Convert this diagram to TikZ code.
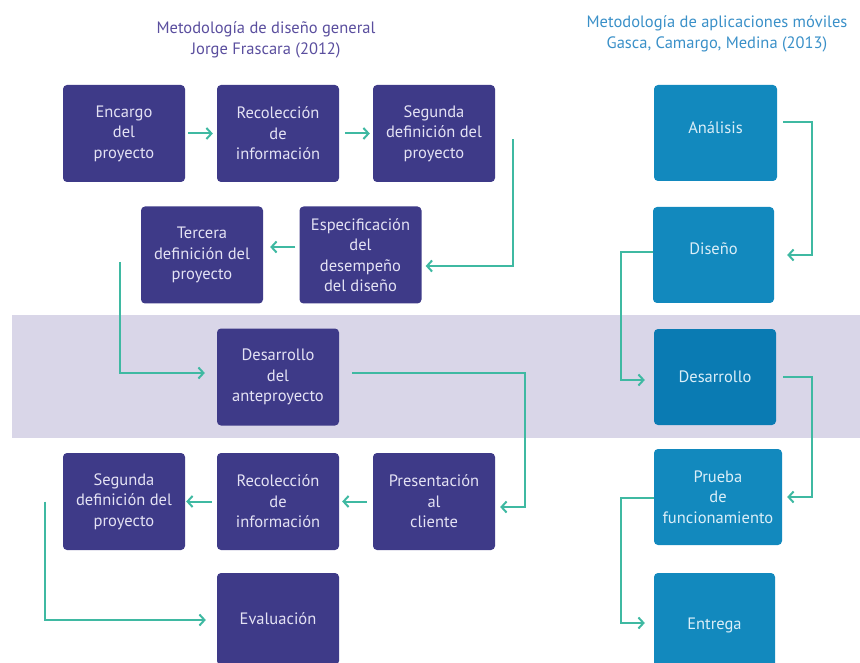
\documentclass[tikz,border=0pt]{standalone}
\usepackage{fontspec}
\setmainfont{PT Sans}
\usetikzlibrary{arrows.meta}
\definecolor{boxpurple}{HTML}{3E3A88}
\definecolor{boxblue}{HTML}{1289BE}
\definecolor{boxbluedark}{HTML}{0A7BB3}
\definecolor{flowteal}{HTML}{3FB9A2}
\definecolor{bandlilac}{HTML}{D9D6E8}
\definecolor{titlepurple}{HTML}{5A4E9E}
\definecolor{titleblue}{HTML}{3A90C8}
\definecolor{lavtext}{HTML}{E4E2F4}
\definecolor{bluetext}{HTML}{DAEEF8}
% lift a label inside its box without changing the box's centring
\newcommand{\liftlabel}[2]{\raisebox{#1}[\height][\depth]{#2}}
\begin{document}
\begin{tikzpicture}[x=1pt,y=-1pt,
  stage/.style={rounded corners=4pt, minimum width=122pt, minimum height=97pt,
    inner sep=0pt, align=center, font=\fontsize{16.5}{20.5}\selectfont},
  lstage/.style={stage, fill=boxpurple, text=lavtext},
  rstage/.style={stage, fill=boxblue, text=bluetext},
  heading/.style={align=center, font=\fontsize{16.5}{21}\selectfont},
  flow/.style={draw=flowteal, line width=2pt,
    -{Straight Barb[length=5pt,width=11pt,line width=2pt]}}]
\useasboundingbox (0,0) rectangle (860,663);
\clip (0,0) rectangle (860,663);

% highlighted development band
\fill[bandlilac] (12,315) rectangle (860,438);

% headings
\node[heading, text=titlepurple] (hleft) at (266,40)
  {Metodología de diseño general\\Jorge Frascara (2012)};
\node[heading, text=titleblue] (hright) at (717,33.5)
  {Metodología de aplicaciones móviles\\Gasca, Camargo, Medina (2013)};

% Frascara: design methodology
\node[lstage] (enc)  at (124,133.5) {Encargo\\del\\proyecto};
\node[lstage] (rec1) at (278,133.5) {Recolección\\de\\información};
\node[lstage] (seg1) at (434,133.5) {Segunda\\definición del\\proyecto};
\node[lstage] (ter)  at (202,255)   {Tercera\\definición del\\proyecto};
\node[lstage] (esp)  at (360.5,255) {Especificación\\del\\desempeño\\del diseño};
\node[lstage] (desA) at (278,377)   {Desarrollo\\del\\anteproyecto};
\node[lstage] (seg2) at (124,501.5) {Segunda\\definición del\\proyecto};
\node[lstage] (rec2) at (278,501.5) {Recolección\\de\\información};
\node[lstage] (pres) at (434,501.5) {Presentación\\al\\cliente};
\node[lstage, minimum height=92pt] (eval) at (278,619) {Evaluación};

% Gasca, Camargo, Medina: mobile apps methodology
\node[rstage, minimum width=123pt, minimum height=96pt] (ana) at (715.5,133) {\liftlabel{5pt}{Análisis}};
\node[rstage, minimum width=121pt, minimum height=96pt] (dis) at (713.5,255) {\liftlabel{6pt}{Diseño}};
\node[rstage, fill=boxbluedark, minimum height=96pt] (des) at (715,377) {Desarrollo};
\node[rstage, minimum width=128pt, minimum height=96pt] (pru) at (718,497) {Prueba\\de\\funcionamiento};
\node[rstage, minimum width=121pt, minimum height=94pt] (ent) at (714.5,620) {\liftlabel{-5pt}{Entrega}};

% left flow
\draw[flow, shorten <=3pt, shorten >=4pt] (enc) -- (rec1);
\draw[flow, shorten <=6pt, shorten >=3pt] (rec1) -- (seg1);
\draw[flow] ([shift={(18,6)}]seg1.east) |- ([shift={(4,11)}]esp.east);
\draw[flow, shorten <=4pt, shorten >=7pt] ([yshift=8]esp.west) -- ([yshift=8]ter.east);
\draw[flow] ([shift={(-21,7)}]ter.west) |- ([shift={(-12,-4)}]desA.west);
\draw[flow] ([shift={(13,-4)}]desA.east) -| ([shift={(30,5.5)}]pres.east)
  -- ([shift={(5,5.5)}]pres.east);
\draw[flow, shorten <=6pt, shorten >=3pt] (pres) -- (rec2);
\draw[flow, shorten <=5pt, shorten >=1pt] (rec2) -- (seg2);
\draw[flow] ([xshift=-18]seg2.west) |- ([shift={(-11,1)}]eval.west);

% right flow
\draw[flow] ([shift={(6,-11)}]ana.east) -| ([shift={(38,0)}]dis.east)
  -- ([xshift=13]dis.east);
\draw[flow] ([yshift=3]dis.west) -| ([shift={(-33,3)}]des.west)
  -- ([shift={(-9,3)}]des.west);
\draw[flow] ([xshift=7]des.east) -| ([shift={(30,0)}]pru.east)
  -- ([shift={(5,0)}]pru.east);
\draw[flow] ([yshift=-1]pru.west) -| ([shift={(-33,3)}]ent.west)
  -- ([shift={(-9,3)}]ent.west);
\end{tikzpicture}
\end{document}
